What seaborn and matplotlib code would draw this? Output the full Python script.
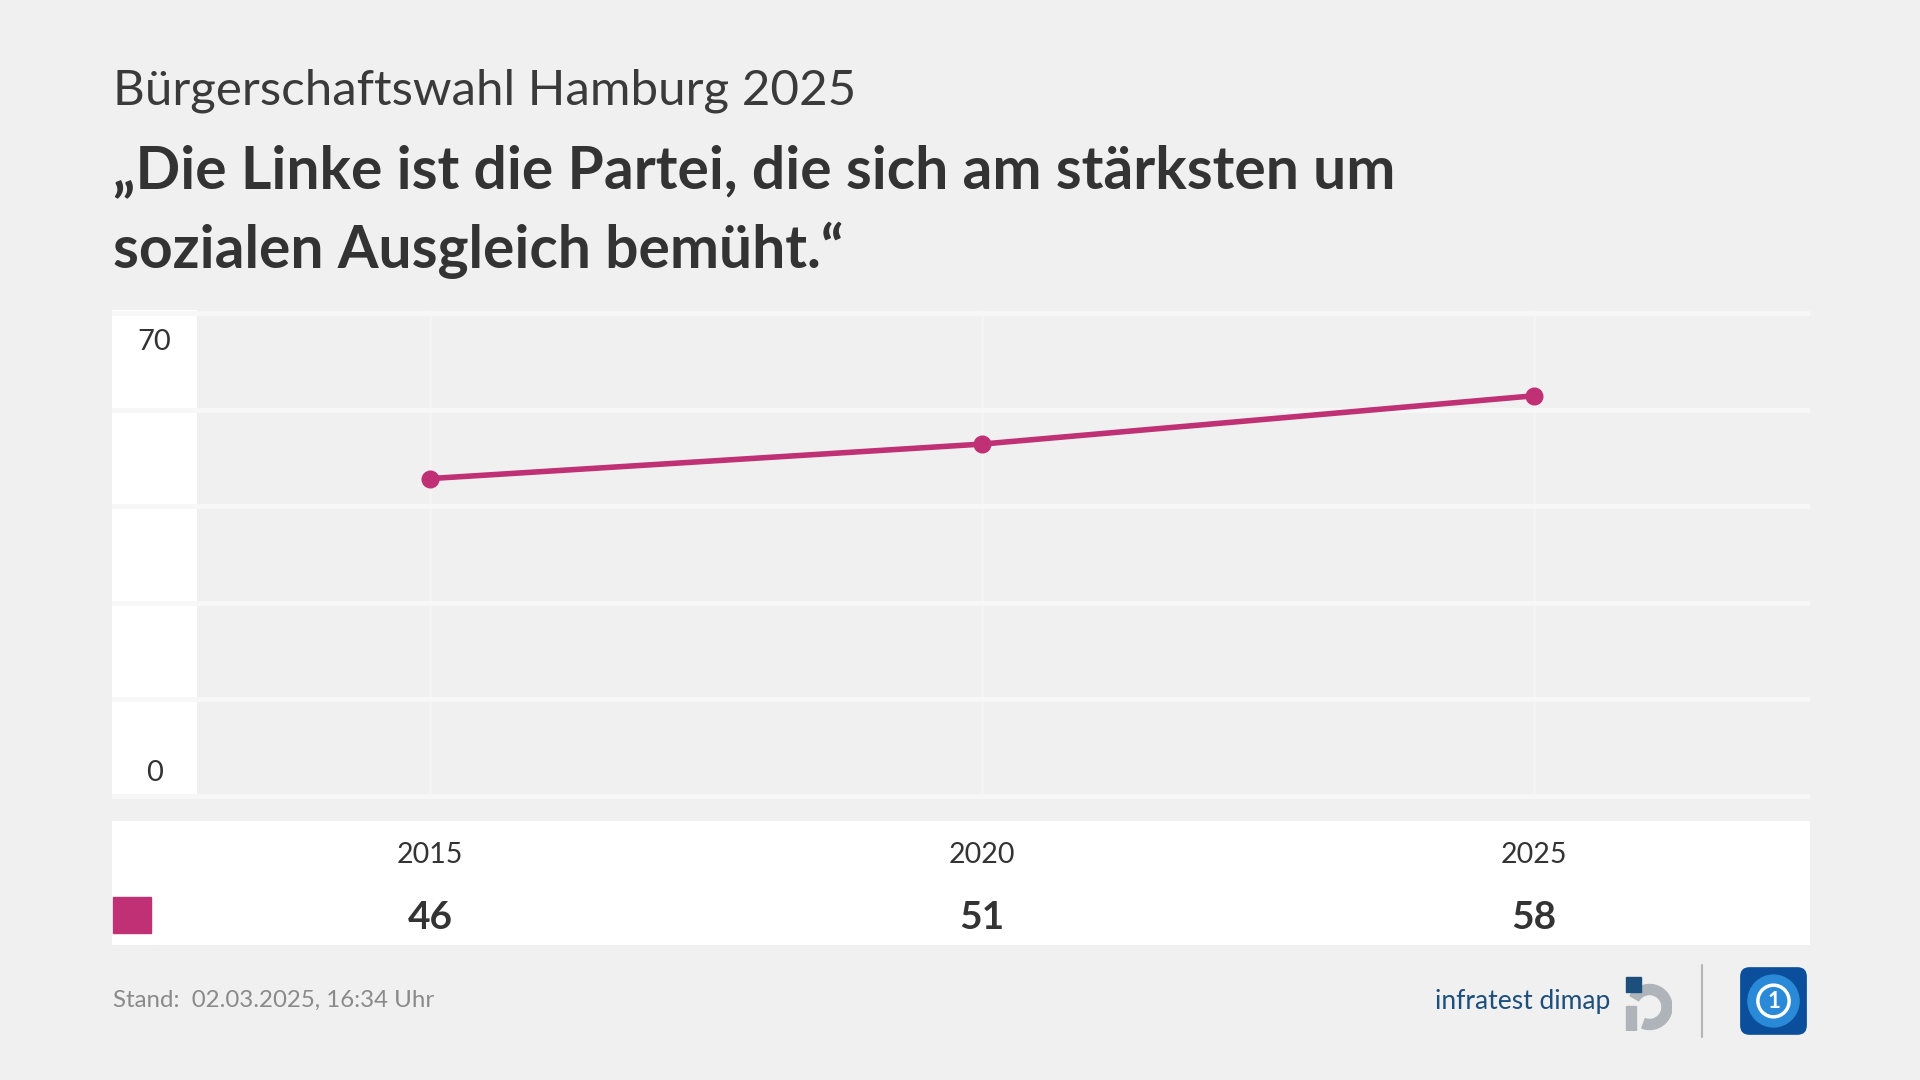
import numpy as np
import pandas as pd
import matplotlib.pyplot as plt
import seaborn as sns
from matplotlib.patches import Rectangle, FancyBboxPatch, Circle, Wedge
from matplotlib.lines import Line2D
from matplotlib.transforms import blended_transform_factory
from matplotlib.ticker import MultipleLocator

# data
years = [2015, 2020, 2025]
values = [46, 51, 58]
y_ticks = [0, 70]
subtitle = "Bürgerschaftswahl Hamburg 2025"
title_lines = ["„Die Linke ist die Partei, die sich am stärksten um",
               "sozialen Ausgleich bemüht.“"]
stand = "Stand:  02.03.2025, 16:34 Uhr"

SERIES = "#bf3074"
BG = "#f0f0f0"
GRID = "#f7f7f7"
TEXT = "#333333"

W, H = 1920, 1080


def box(x0, y0, x1, y1):
    """Pixelbox (Ursprung oben links) -> Figure-Koordinaten."""
    return [x0 / W, 1 - y1 / H, (x1 - x0) / W, (y1 - y0) / H]


sns.set_style("white")
plt.rcParams['font.family'] = ['Lato', 'DejaVu Sans']

fig = plt.figure(figsize=(19.2, 10.8), dpi=100, facecolor=BG)

# Titel
fig.text(113 / W, 1 - 91 / H, subtitle, fontsize=35.5, fontweight='normal',
         color='#3a3a3a', va='center')
for i, line in enumerate(title_lines):
    fig.text(113 / W, 1 - (171 + 79 * i) / H, line, fontsize=42.3,
             fontweight='bold', color=TEXT, va='center')

# Diagramm
ax = fig.add_axes(box(197, 310, 1810, 799))
ax_lab = fig.add_axes(box(112, 310, 197, 799), sharey=ax)
ax.set_facecolor(BG)
ax_lab.set_facecolor("white")

df = pd.DataFrame({"Jahr": years, "Wert": values})
sns.lineplot(data=df, x="Jahr", y="Wert", ax=ax, color=SERIES, lw=4,
             marker='o', markersize=13, markeredgewidth=0)

ax.set_ylim(-0.43, 70.43)
ax.set_xlim(2012.89, 2027.5)
ax.set_xticks(years)
ax.yaxis.set_major_locator(MultipleLocator(14))
ax.grid(axis='y', color=GRID, lw=3.5)
ax.grid(axis='x', color='#f4f4f4', lw=2)
ax.set_axisbelow(True)
ax_lab.set_xticks([])
ax_lab.grid(axis='y', color=GRID, lw=3.5)
ax_lab.set_axisbelow(True)
for a in (ax, ax_lab):
    for s in a.spines.values():
        s.set_visible(False)
    a.tick_params(length=0, labelleft=False, labelbottom=False)
    a.set_xlabel("")
    a.set_ylabel("")

for t in y_ticks:
    off = -29 if t == max(y_ticks) else 23
    ax_lab.annotate(str(t), xy=(0.5, t), xycoords=('axes fraction', 'data'),
                    xytext=(0, off * 0.72), textcoords='offset points',
                    ha='center', va='center', fontsize=21, color=TEXT)

# Tabelle unten
tab = fig.add_axes(box(112, 821, 1810, 945))
tab.set_facecolor("white")
tab.set_xticks([])
tab.set_yticks([])
for s in tab.spines.values():
    s.set_visible(False)
tr = blended_transform_factory(ax.transData, tab.transAxes)
for yr, v in zip(years, values):
    tab.text(yr, 0.727, str(yr), transform=tr, ha='center', va='center',
             fontsize=20.5, color=TEXT)
    tab.text(yr, 0.225, str(v), transform=tr, ha='center', va='center',
             fontsize=28, fontweight='bold', color=TEXT)
fig.patches.append(Rectangle((113 / W, 1 - 933 / H), 38 / W, 36 / H,
                             transform=fig.transFigure, color=SERIES))

# Fußzeile
fig.text(113 / W, 1 - 1000 / H, stand, fontsize=17.3, color='#8a8a8a',
         va='center')
fig.text(1610 / W, 1 - 1001 / H, "infratest dimap", fontsize=19,
         color='#1d4f7c', ha='right', va='center')

logo = fig.add_axes(box(1622, 973, 1672, 1031))
logo.set_xlim(0, 1)
logo.set_ylim(0, 1.16)
logo.set_aspect('equal')
logo.axis('off')
logo.add_patch(Wedge((0.55, 0.48), 0.45, -110, 150, width=0.2,
                     color='#aeb4b9'))
logo.add_patch(Rectangle((0.08, 0.0), 0.2, 0.5, color='#aeb4b9'))
logo.add_patch(Rectangle((0.08, 0.78), 0.3, 0.3, color='#1d4f7c'))

fig.add_artist(Line2D([1702 / W, 1702 / W], [1 - 965 / H, 1 - 1037 / H],
                      color='#b5b5b5', lw=1.5))

ts = fig.add_axes(box(1738, 965, 1809, 1037))
ts.set_xlim(0, 1)
ts.set_ylim(0, 1)
ts.axis('off')
ts.add_patch(FancyBboxPatch((0.04, 0.04), 0.92, 0.92,
                            boxstyle="round,pad=0,rounding_size=0.12",
                            color='#0b4f9c'))
ts.add_patch(Circle((0.5, 0.5), 0.36, color='#2a8ad8'))
ts.add_patch(Circle((0.5, 0.5), 0.22, fill=False, ec='white', lw=2.5))
ts.text(0.5, 0.5, "1", ha='center', va='center', fontsize=16,
        fontweight='bold', color='white')

fig.savefig("out.png", dpi=100, facecolor=BG)
